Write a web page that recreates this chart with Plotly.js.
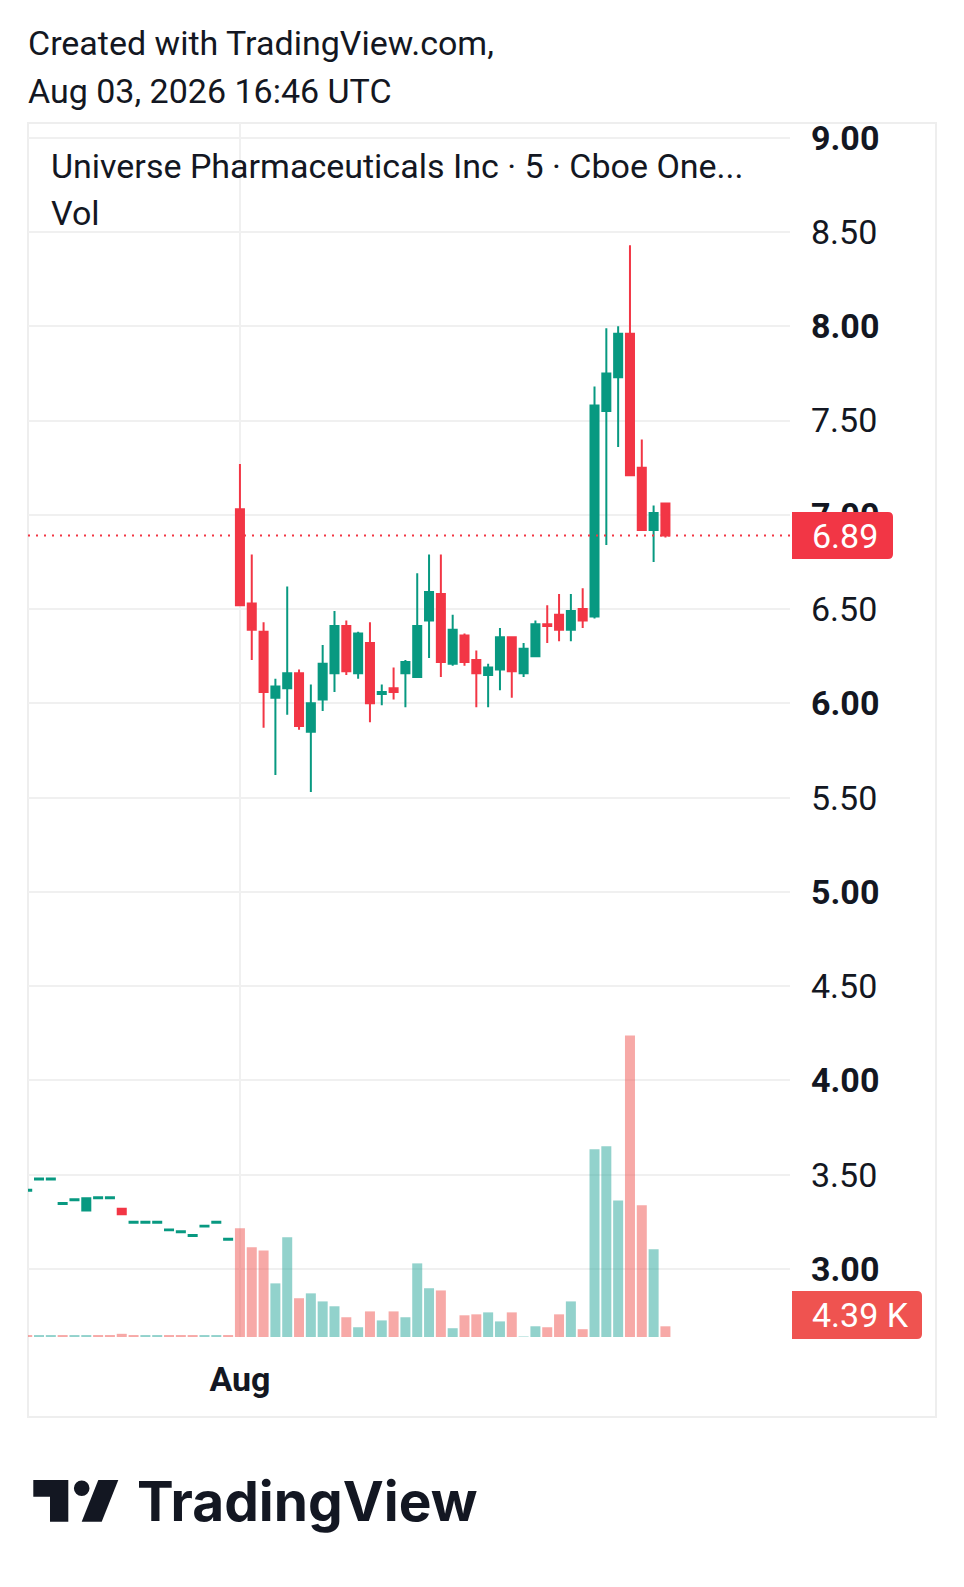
<!DOCTYPE html>
<html><head><meta charset="utf-8">
<script src="https://cdn.plot.ly/plotly-3.0.1.min.js"></script>
<style>html,body{margin:0;padding:0;background:#fff;}#chart{width:964px;height:1587px;}</style>
</head><body><div id="chart"></div>
<script>
// ---- data (5-minute bars) ----
const sessionDays = ['Jul 31', 'Aug 03'];
const sessionStarts = ['14:30', '09:30'];
const sessionBars = [18, 37];

const opens = [3.415,3.475,3.475,3.345,3.365,3.31,3.375,3.375,3.32,3.245,3.245,3.245,3.205,3.195,3.175,3.225,3.245,3.155,
  7.03,6.53,6.38,6.03,6.08,6.16,5.85,6.02,6.16,6.41,6.16,6.32,6.05,6.08,6.16,6.14,6.44,6.58,6.21,6.36,6.23,6.15,6.18,6.35,6.16,6.25,6.42,6.47,6.39,6.50,6.46,7.55,7.73,7.96,7.25,6.92,7.06];
const highs = [3.42,3.48,3.48,3.35,3.37,3.375,3.38,3.38,3.32,3.25,3.25,3.25,3.21,3.20,3.18,3.23,3.25,3.16,
  7.27,6.79,6.43,6.13,6.62,6.18,6.10,6.31,6.49,6.44,6.38,6.43,6.10,6.19,6.23,6.69,6.79,6.79,6.47,6.37,6.28,6.21,6.40,6.35,6.32,6.44,6.52,6.58,6.58,6.61,7.68,7.99,8.00,8.43,7.40,7.05,7.06];
const lows = [3.415,3.475,3.475,3.345,3.365,3.31,3.375,3.375,3.29,3.245,3.245,3.245,3.205,3.195,3.175,3.225,3.245,3.155,
  6.52,6.23,5.87,5.62,5.94,5.86,5.53,5.96,6.06,6.15,6.13,5.90,5.99,6.02,5.98,6.14,6.24,6.14,6.20,6.20,5.98,5.98,6.07,6.03,6.14,6.25,6.32,6.33,6.33,6.40,6.45,6.84,7.36,7.21,6.92,6.75,6.88];
const closes = [3.42,3.48,3.48,3.35,3.37,3.375,3.38,3.38,3.29,3.25,3.25,3.25,3.21,3.20,3.18,3.23,3.25,3.16,
  6.52,6.39,6.06,6.09,6.16,5.88,6.00,6.21,6.41,6.17,6.37,6.00,6.06,6.06,6.22,6.41,6.59,6.22,6.39,6.22,6.16,6.19,6.35,6.17,6.29,6.42,6.41,6.39,6.49,6.44,7.58,7.75,7.96,7.21,6.92,7.01,6.89];
const volumes = [800,800,800,800,800,800,800,800,1300,800,800,800,800,800,800,800,800,800,
  44600,36800,35500,22000,40900,15900,17900,14600,12600,8100,4000,10500,6800,10500,8100,30200,20000,19100,3600,8900,9300,10100,6400,10100,200,4400,4000,9300,14600,3200,77000,78200,56000,123700,54000,36000,4390];
// 1 = volume bar drawn in the "down" colour
const volumeDown = [1,0,0,1,0,0,1,1,1,1,0,0,1,1,1,0,0,1,
  1,1,1,0,0,1,0,0,0,1,0,1,0,1,0,0,0,1,0,1,1,0,0,1,0,0,1,1,0,1,0,0,0,1,1,0,1];

const priceTicks = [3.0,3.5,4.0,4.5,5.0,5.5,6.0,6.5,7.0,7.5,8.0,8.5,9.0];
const priceTickText = ['<b>3.00</b>','3.50','<b>4.00</b>','4.50','<b>5.00</b>','5.50','<b>6.00</b>','6.50','<b>7.00</b>','7.50','<b>8.00</b>','8.50','<b>9.00</b>'];
const timeTickText = '<b>Aug</b>';

const headerLines = ['Created with TradingView.com,', 'Aug 03, 2026 16:46 UTC'];
const seriesTitle = 'Universe Pharmaceuticals Inc · 5 · Cboe One...';
const volTitle = 'Vol';

// ---- build bar times (category labels) ----
const times = [];
sessionDays.forEach((d, s) => {
  let [h, m] = sessionStarts[s].split(':').map(Number);
  for (let k = 0; k < sessionBars[s]; k++) {
    times.push(d + ' ' + String(h).padStart(2,'0') + ':' + String(m).padStart(2,'0'));
    m += 5; if (m >= 60) { m -= 60; h += 1; }
  }
});
const augTick = times[sessionBars[0]];

// ---- styling / layout helpers ----
const UP = '#089981', DOWN = '#F23645';
const VUP = 'rgba(38,166,154,0.5)', VDOWN = 'rgba(239,83,80,0.5)';
const TXT = '#131722';
const FONT = 'Roboto, "Noto Sans", sans-serif';
const FS = 34;
const W = 964, H = 1587;
const P = {l: 28, r: 790, t: 123, b: 1337};
const fx = px => (px - P.l) / (P.r - P.l);
const fy = py => (P.b - py) / (P.b - P.t);
const pxPerPrice = 188.55;

const candles = {
  type: 'candlestick', x: times, open: opens, high: highs, low: lows, close: closes,
  xaxis: 'x', yaxis: 'y',
  increasing: {line: {color: UP, width: 2}, fillcolor: UP},
  decreasing: {line: {color: DOWN, width: 2}, fillcolor: DOWN},
  whiskerwidth: 0, hoverinfo: 'skip', showlegend: false
};
const vol = {
  type: 'bar', x: times, y: volumes, xaxis: 'x', yaxis: 'y2',
  marker: {color: volumeDown.map(d => d ? VDOWN : VUP), line: {width: 0}},
  hoverinfo: 'skip', showlegend: false
};

const n = times.length;
const lastClose = closes[n - 1];
const lastVol = volumes[n - 1];

function pxPath(pts) {
  return 'M' + pts.map(p => fx(p[0]).toFixed(5) + ',' + fy(p[1]).toFixed(5)).join(' L') + ' Z';
}

// price label box (paper x, data y)
const bx0 = fx(792), bx1 = fx(893), rx = 5 / (P.r - P.l);
const hh = 23.5 / pxPerPrice, ry = 5 / pxPerPrice;
const priceBox = `M${bx0},${lastClose + hh} L${bx1 - rx},${lastClose + hh} Q${bx1},${lastClose + hh} ${bx1},${lastClose + hh - ry} L${bx1},${lastClose - hh + ry} Q${bx1},${lastClose - hh} ${bx1 - rx},${lastClose - hh} L${bx0},${lastClose - hh} Z`;

// volume label box (paper coords)
const vx0 = fx(792), vx1 = fx(922), vrx = 5 / (P.r - P.l), vy0 = fy(1291), vy1 = fy(1339), vry = 5 / (P.b - P.t);
const volBox = `M${vx0},${vy0} L${vx1 - vrx},${vy0} Q${vx1},${vy0} ${vx1},${vy0 - vry} L${vx1},${vy1 + vry} Q${vx1},${vy1} ${vx1 - vrx},${vy1} L${vx0},${vy1} Z`;

const shapes = [
  // outer frame
  {type: 'rect', xref: 'paper', yref: 'paper', x0: fx(28), x1: fx(936), y0: fy(123), y1: fy(1417),
   line: {color: '#eeeeee', width: 2}, layer: 'below'},
  // last price dotted line
  {type: 'line', xref: 'paper', yref: 'y', x0: 0, x1: 1, y0: lastClose, y1: lastClose,
   line: {color: DOWN, width: 2, dash: '2px,6px'}, layer: 'above'},
  {type: 'path', xref: 'paper', yref: 'y', path: priceBox, fillcolor: DOWN, line: {width: 0}, layer: 'above'},
  {type: 'path', xref: 'paper', yref: 'paper', path: volBox, fillcolor: '#EF5350', line: {width: 0}, layer: 'above'},
  // TradingView logo mark
  {type: 'path', xref: 'paper', yref: 'paper', fillcolor: '#131722', line: {width: 0},
   path: pxPath([[33.3,1480],[68.3,1480],[68.3,1521.7],[50,1521.7],[50,1496.7],[33.3,1496.7]])},
  {type: 'circle', xref: 'paper', yref: 'paper', fillcolor: '#131722', line: {width: 0},
   x0: fx(81.7 - 7.8), x1: fx(81.7 + 7.8), y0: fy(1488.3 + 7.8), y1: fy(1488.3 - 7.8)},
  {type: 'path', xref: 'paper', yref: 'paper', fillcolor: '#131722', line: {width: 0},
   path: pxPath([[98.3,1480],[118.3,1480],[101.7,1521.7],[81.7,1521.7]])}
];

const ann = (text, px, py, size, extra) => Object.assign({
  text, xref: 'paper', yref: 'paper', x: fx(px), y: fy(py), xanchor: 'left', yanchor: 'middle',
  showarrow: false, font: {family: FONT, size, color: TXT}, borderpad: 0
}, extra || {});

const annotations = [
  ann(headerLines[0], 27, 43.5, FS),
  ann(headerLines[1], 27, 91, FS),
  ann(seriesTitle, 50, 166, FS),
  ann(volTitle, 50, 213, FS),
  {text: lastClose.toFixed(2), xref: 'paper', yref: 'y', x: fx(811), y: lastClose, xanchor: 'left', yanchor: 'middle',
   showarrow: false, font: {family: FONT, size: FS, color: '#ffffff'}, borderpad: 0},
  ann((lastVol / 1000).toFixed(2) + ' K', 811, 1315, FS, {font: {family: FONT, size: FS, color: '#ffffff'}}),
  ann('<b>TradingView</b>', 136, 1501, 55, {font: {family: 'Inter, "Open Sans", sans-serif', size: 55, color: '#131722'}})
];

const layout = {
  width: W, height: H,
  margin: {l: P.l, r: W - P.r, t: P.t, b: H - P.b, pad: 0},
  paper_bgcolor: '#ffffff', plot_bgcolor: '#ffffff',
  showlegend: false, hovermode: false, dragmode: false,
  boxgap: 0.32, boxgroupgap: 0, bargap: 0.154,
  xaxis: {
    type: 'category', range: [0.068, 64.54], rangeslider: {visible: false},
    tickvals: [augTick], ticktext: [timeTickText], ticks: '',
    showgrid: true, gridcolor: '#f0f0f0', gridwidth: 2, zeroline: false, showline: false,
    tickfont: {family: FONT, size: FS, color: TXT}, ticklabelstandoff: 19, fixedrange: true
  },
  yaxis: {
    side: 'right', range: [2.6394, 9.078], tickvals: priceTicks, ticktext: priceTickText,
    ticks: '', showgrid: true, gridcolor: '#f0f0f0', gridwidth: 2, zeroline: false, showline: false,
    tickfont: {family: FONT, size: FS, color: TXT}, ticklabelstandoff: 20, fixedrange: true
  },
  yaxis2: {overlaying: 'y', range: [0, 498000], visible: false, fixedrange: true},
  shapes, annotations
};

Plotly.newPlot('chart', [vol, candles], layout, {displayModeBar: false, staticPlot: true});
</script></body></html>
